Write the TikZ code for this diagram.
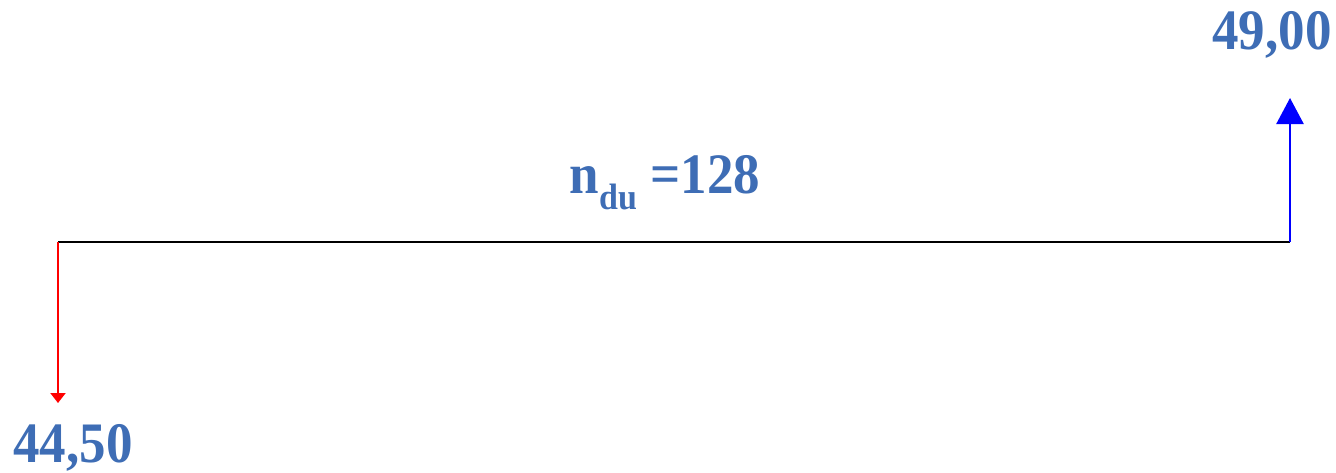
\documentclass[tikz,border=0pt]{standalone}
\usepackage{fontspec}
\usepackage{graphicx}
\setmainfont{Liberation Serif}
\usetikzlibrary{arrows.meta}
\definecolor{txtblue}{HTML}{3E6DB5}
\definecolor{arrblue}{HTML}{0000FF}
\definecolor{arrred}{HTML}{FF0000}
\tikzset{
  lbl/.style={text=txtblue, font=\fontsize{53}{56}\selectfont\bfseries, inner sep=0pt},
}
\newcommand{\tall}[1]{\scalebox{1}[1.08]{#1}}
\begin{document}
\begin{tikzpicture}[x=1pt,y=-1pt]
\useasboundingbox (0,0) rectangle (1336,472);
\coordinate (L) at (58,242);
\coordinate (R) at (1290,242);
\coordinate (Ld) at (58,403);
\coordinate (Ru) at (1290,98);
\draw[black, line width=2.6pt] (L) -- (R);
\draw[arrred, line width=2pt, -{Triangle[width=15pt,length=10pt]}] (L) -- (Ld);
\draw[arrblue, line width=2.5pt, -{Triangle[width=27pt,length=26pt]}] (R) -- (Ru);
\node[lbl, anchor=base] (a) at (73,462) {\tall{44,50}};
\node[lbl, anchor=base] (b) at (1272,49) {\tall{49,00}};
\node[lbl, anchor=base] (n) at (665,193) {\tall{n\textsubscript{\fontsize{34}{36}\selectfont du} =128}};
\end{tikzpicture}
\end{document}
